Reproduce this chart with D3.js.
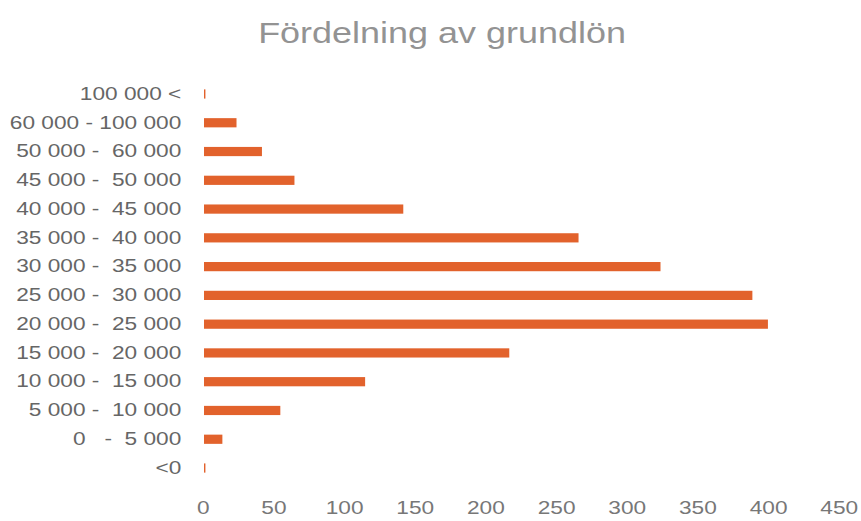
<!DOCTYPE html>
<html>
<head>
<meta charset="utf-8">
<script src="https://cdn.jsdelivr.net/npm/d3@7"></script>
<style>
  body { margin: 0; background: #fff; }
  text { font-family: "Liberation Sans", Arial, sans-serif; }
</style>
</head>
<body>
<div class="chart"></div>
<script>
// salary bands, top to bottom as drawn
const bands = [
  '100 000 <',
  '60 000 - 100 000',
  '50 000 -  60 000',
  '45 000 -  50 000',
  '40 000 -  45 000',
  '35 000 -  40 000',
  '30 000 -  35 000',
  '25 000 -  30 000',
  '20 000 -  25 000',
  '15 000 -  20 000',
  '10 000 -  15 000',
  '5 000 -  10 000',
  '0   -  5 000',
  '<0',
];
const counts = [1, 23, 41, 64, 141, 265, 323, 388, 399, 216, 114, 54, 13, 1];
const ticks = [0, 50, 100, 150, 200, 250, 300, 350, 400, 450];

const data = bands.map((b, i) => ({ band: b, count: counts[i] }));

const width = 861;
const height = 521;
const stretch = 1.26; // the original text is a bit wide

const svg = d3
  .select('.chart')
  .append('svg')
  .attr('width', width)
  .attr('height', height);

const x = d3.scaleLinear().domain([0, 450]).range([204, 840]);
const y = d3
  .scaleBand()
  .domain(bands)
  .range([79.6, 482.4])
  .paddingInner(0.68)
  .paddingOuter(0.34);

svg
  .append('text')
  .attr('transform', `translate(442,43) scale(1.24,1)`)
  .attr('text-anchor', 'middle')
  .attr('font-size', 29)
  .attr('fill', '#939393')
  .text('Fördelning av grundlön');

svg
  .selectAll('rect')
  .data(data)
  .enter()
  .append('rect')
  .attr('x', x(0))
  .attr('y', (d) => y(d.band))
  .attr('width', (d) => x(d.count) - x(0))
  .attr('height', y.bandwidth())
  .attr('fill', '#e2622c');

const yAxis = svg
  .append('g')
  .attr('transform', `translate(${x(0)},0)`)
  .call(d3.axisLeft(y).tickSize(0).tickPadding(18));
yAxis.select('.domain').remove();
yAxis
  .selectAll('text')
  .attr('font-size', 18)
  .attr('fill', '#666')
  .style('white-space', 'pre')
  .attr('transform', `scale(${stretch},1)`);

const xAxis = svg
  .append('g')
  .attr('transform', 'translate(0,482)')
  .call(d3.axisBottom(x).tickValues(ticks).tickSize(0).tickPadding(19));
xAxis.select('.domain').remove();
xAxis
  .selectAll('text')
  .attr('font-size', 18)
  .attr('fill', '#777')
  .attr('x', -1)
  .attr('transform', `scale(${stretch},1)`);
</script>
</body>
</html>
